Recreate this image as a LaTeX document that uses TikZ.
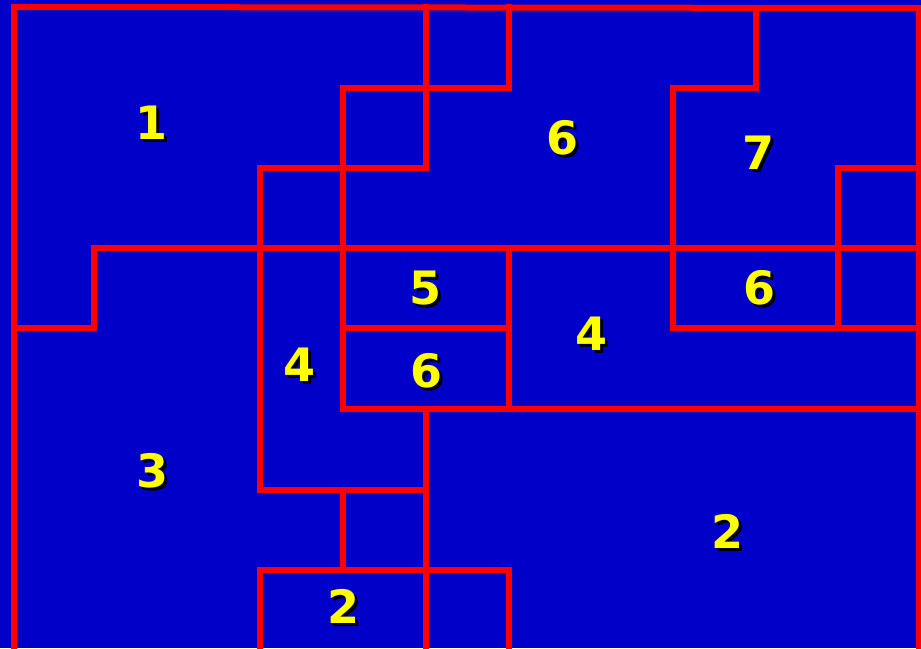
\documentclass[tikz,border=0pt]{standalone}
\usepackage{fontspec}
\setmainfont{DejaVu Sans}
\definecolor{bg}{RGB}{0,0,200}
\definecolor{wall}{RGB}{255,0,0}
\definecolor{num}{RGB}{255,255,0}
\tikzset{
  wallline/.style={draw=wall, line width=6pt, line cap=rect, line join=miter},
  lbl/.style={text=num, font=\fontsize{46}{46}\selectfont\bfseries, inner sep=0pt},
}
\newcommand{\shadowed}[1]{%
  \makebox[0pt][l]{\hspace{3pt}\raisebox{-3pt}{\textcolor{black}{#1}}}#1}
\begin{document}
\begin{tikzpicture}[x=1pt,y=-1pt]
\useasboundingbox (0,0) rectangle (921,648);
\fill[bg] (0,0) rectangle (921,648);
% outer border
\draw[wallline] (14,648) -- (14,7) -- (919,8) -- (919,648);
% region 1 lower boundary
\draw[wallline] (14,328) -- (94,328) -- (94,248) -- (919,248);
% staircase upper middle
\draw[wallline] (260,490) -- (260,168) -- (426,168) -- (426,7);
\draw[wallline] (343,409) -- (343,88) -- (509,88) -- (509,7);
% region 7
\draw[wallline] (756,8) -- (756,88) -- (673,88) -- (673,328) -- (919,328);
\draw[wallline] (838,328) -- (838,168) -- (919,168);
% region 5 / 6
\draw[wallline] (343,328) -- (509,328);
\draw[wallline] (509,248) -- (509,409);
\draw[wallline] (343,409) -- (919,409);
% lower
\draw[wallline] (426,409) -- (426,648);
\draw[wallline] (260,490) -- (426,490);
\draw[wallline] (343,490) -- (343,570);
\draw[wallline] (260,648) -- (260,570) -- (509,570) -- (509,648);
% labels
\node[lbl] (l1) at (152,124) {\shadowed{1}};
\node[lbl] (l6a) at (562,139) {\shadowed{6}};
\node[lbl] (l7) at (758,154) {\shadowed{7}};
\node[lbl] (l5) at (425,290) {\shadowed{5}};
\node[lbl] (l6b) at (759,289) {\shadowed{6}};
\node[lbl] (l4a) at (591,335) {\shadowed{4}};
\node[lbl] (l4b) at (299,366) {\shadowed{4}};
\node[lbl] (l6c) at (426,372) {\shadowed{6}};
\node[lbl] (l3) at (153,472) {\shadowed{3}};
\node[lbl] (l2a) at (727,533) {\shadowed{2}};
\node[lbl] (l2b) at (343,608) {\shadowed{2}};
\end{tikzpicture}
\end{document}
